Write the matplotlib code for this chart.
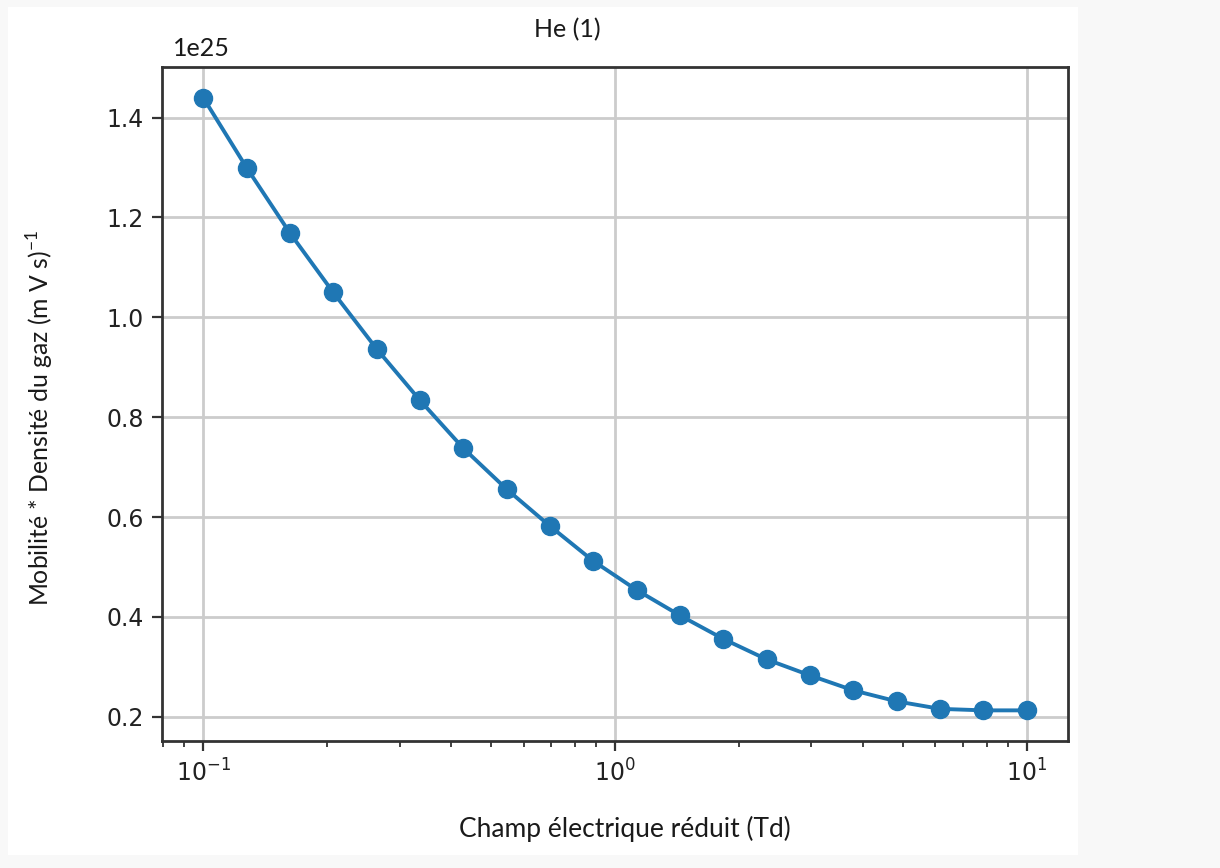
import numpy as np
import matplotlib
matplotlib.use("Agg")
import matplotlib.pyplot as plt
from matplotlib.patches import Rectangle

plt.rcParams["font.family"] = ["DejaVu Sans"]
plt.rcParams["mathtext.fontset"] = "dejavusans"

# Reduced electric field (Td), 20 log-spaced points from 0.1 to 10
champ_td = np.logspace(-1, 1, 20)

# Reduced mobility (mobility * gas number density), in (m V s)^-1
mobilite_densite = np.array([
    1.440, 1.300, 1.169, 1.050, 0.937, 0.834, 0.738, 0.656, 0.582, 0.512,
    0.454, 0.403, 0.356, 0.315, 0.283, 0.253, 0.231, 0.216, 0.213, 0.213,
]) * 1e25

titre = "He (1)"
label_x = "Champ électrique réduit (Td)"
label_y = r"Mobilité * Densité du gaz (m V s)$^{\mathregular{-1}}$"

W, H = 1220, 868
fig = plt.figure(figsize=(W / 100, H / 100), dpi=100, facecolor="#f8f8f8")

# white page area behind the plot
fig.patches.append(Rectangle((8 / W, 1 - 855 / H), (1078 - 8) / W, (855 - 7) / H,
                             transform=fig.transFigure, facecolor="white",
                             edgecolor="none", zorder=-10))

ax = fig.add_axes([162 / W, 1 - 741 / H, (1068 - 162) / W, (741 - 67) / H])
ax.set_zorder(1)
ax.set_facecolor("white")

ax.plot(champ_td, mobilite_densite, "-o", color="#1f77b4", lw=2.8,
        markersize=13, zorder=3)
ax.set_xscale("log")

ax.grid(True, which="major", color="#cccccc", lw=2.0)
for s in ax.spines.values():
    s.set_color("#333333")
    s.set_linewidth(2.0)

ax.tick_params(axis="both", which="major", labelsize=17, length=7, width=1.6,
               color="#333333", labelcolor="#222222", pad=6)
ax.tick_params(axis="both", which="minor", length=4, width=1.3, color="#333333")

off = ax.yaxis.get_offset_text()
off.set_visible(False)
fig.text(173 / W, 1 - 56 / H, "1e25", fontsize=18, family="Lato",
         color="#1a1a1a", ha="left", va="baseline", zorder=5)

fig.text(567 / W, 1 - 30 / H, titre, fontsize=18, family="Lato",
         color="#1a1a1a", ha="center", va="center")
fig.text(625 / W, 1 - 829 / H, label_x, fontsize=19, family="Lato",
         color="#1a1a1a", ha="center", va="center")
fig.text(40 / W, 1 - 418 / H, label_y, fontsize=17.8, family="Lato",
         color="#1a1a1a", ha="center", va="center", rotation=90)

fig.savefig("out.png", dpi=100, facecolor=fig.get_facecolor())
